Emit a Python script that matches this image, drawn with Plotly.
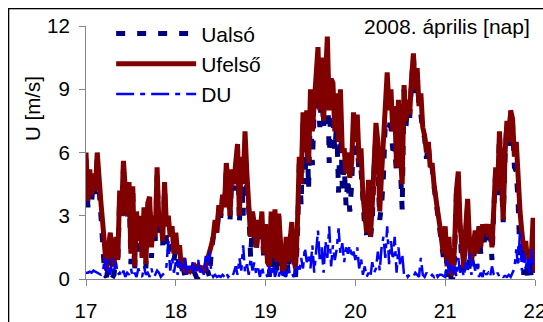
import numpy as np
import plotly.graph_objects as go

# time axis: 30-minute samples, 17.0 .. 22.0 (day of April 2008)
t_start, t_end, n_per_day = 17, 22, 48
nap = np.linspace(t_start, t_end, (t_end - t_start) * n_per_day + 1)

u_felso = [
    # 17
    6.0, 3.7, 5.2, 4.0, 5.0, 4.2, 6.0, 4.5, 3.6, 2.6, 1.2, 0.4,
    1.5, 2.2, 1.0, 0.6, 2.0, 0.9, 4.2, 3.0, 5.6, 4.2, 3.0, 4.6,
    1.2, 4.4, 0.6, 3.2, 1.8, 3.0, 1.0, 3.4, 0.7, 3.6, 3.9, 1.5,
    3.0, 2.0, 5.3, 2.5, 3.0, 1.8, 4.6, 2.5, 3.0, 2.0, 2.5, 1.2,
    # 18
    2.2, 1.2, 1.6, 0.5, 1.0, 0.4, 0.3, 0.6, 0.4, 0.5, 0.6, 0.4,
    0.6, 0.5, 0.6, 0.3, 0.6, 0.8, 1.2, 1.6, 2.0, 2.8, 2.2, 3.5,
    3.0, 4.0, 3.4, 5.5, 4.5, 3.0, 5.2, 4.5, 5.5, 6.4, 3.0, 5.8,
    4.5, 7.0, 5.0, 3.5, 2.0, 3.2, 2.6, 1.5, 2.8, 2.0, 3.2, 1.2,
    # 19
    2.6, 0.8, 0.6, 3.2, 1.0, 3.3, 0.8, 3.1, 1.2, 0.3, 0.6, 2.0,
    0.8, 2.1, 2.7, 1.0, 0.5, 2.5, 5.8, 4.5, 7.9, 6.0, 8.0, 5.5,
    9.0, 7.0, 8.5, 10.0, 11.0, 8.0, 10.5, 7.5, 10.1, 11.5, 8.0, 9.5,
    9.3, 7.0, 8.8, 6.5, 9.0, 6.0, 6.2, 5.0, 6.0, 4.8, 5.5, 7.9,
    # 20
    6.5, 7.8, 5.5, 6.2, 4.0, 3.0, 2.2, 4.7, 2.0, 3.5, 5.5, 7.4,
    6.5, 3.2, 5.0, 6.9, 8.5, 9.8, 8.0, 9.0, 7.0, 8.2, 5.3, 8.5,
    6.0, 4.5, 9.2, 7.5, 8.5, 7.8, 9.5, 10.7, 9.0, 10.0, 8.2, 8.8,
    7.2, 6.8, 6.0, 6.5, 5.3, 5.5, 4.5, 4.0, 3.2, 2.6, 1.8, 1.2,
    # 21
    2.5, 0.6, 2.0, 0.3, 0.2, 1.5, 4.2, 5.1, 2.5, 1.0, 0.5, 2.5,
    3.8, 1.8, 0.8, 1.5, 2.3, 1.2, 2.5, 1.5, 2.6, 2.2, 2.6, 2.0,
    2.6, 1.5, 3.5, 5.3, 4.2, 7.0, 5.0, 2.8, 6.0, 7.5, 6.5, 8.0,
    7.6, 5.8, 6.5, 4.2, 3.2, 2.2, 1.4, 1.8, 0.9, 1.4, 1.0, 2.9,
    0.3,
]

u_also = [
    # 17
    5.7, 3.4, 4.85, 3.7, 4.6, 3.85, 5.7, 4.25, 3.4, 2.3, 0.2, 0.1,
    0.6, 2.0, 0.05, 0.2, 1.2, 0.7, 3.9, 2.9, 5.2, 4.1, 2.7, 4.4,
    0.7, 4.3, 0.3, 3.1, 1.3, 2.8, 0.9, 2.8, 0.5, 3.3, 3.8, 1.0,
    2.9, 1.8, 4.9, 2.2, 2.9, 1.6, 4.3, 1.9, 1.2, 1.6, 1.5, 0.9,
    # 18
    1.4, 1.0, 0.7, 0.2, 0.5, 0.1, 0.1, 0.1, 0.1, 0.1, 0.3, 0.1,
    0.1, 0.2, 0.1, 0.1, 0.1, 0.4, 0.1, 1.3, 1.9, 2.6, 2.1, 3.35,
    2.9, 3.8, 3.3, 5.2, 4.4, 2.8, 5.1, 4.2, 4.9, 6.2, 2.6, 5.4,
    3.0, 6.7, 4.3, 3.3, 1.0, 2.8, 1.8, 1.3, 2.3, 1.9, 2.6, 1.0,
    # 19
    2.3, 0.7, 0.1, 3.0, 0.3, 3.2, 0.4, 3.0, 0.7, 0.1, 0.3, 1.9,
    0.2, 1.9, 2.4, 0.9, 0.1, 1.9, 5.5, 3.5, 7.4, 4.5, 7.2, 4.3,
    8.5, 5.4, 8.2, 8.8, 8.7, 7.2, 9.0, 7.2, 8.3, 10.5, 5.5, 8.9,
    7.7, 6.1, 7.4, 4.1, 7.8, 4.3, 5.4, 3.5, 4.8, 3.2, 4.5, 6.6,
    # 20
    5.6, 6.3, 5.0, 5.2, 3.8, 2.4, 2.1, 4.4, 1.9, 2.7, 5.2, 6.9,
    5.2, 2.8, 3.5, 4.9, 7.5, 7.3, 7.3, 7.2, 6.1, 6.2, 5.0, 7.0,
    5.4, 3.3, 9.0, 7.2, 8.4, 7.6, 9.35, 10.6, 8.7, 9.8, 8.1, 7.8,
    7.0, 6.7, 5.7, 6.35, 5.2, 5.3, 4.4, 3.7, 3.1, 2.4, 1.6, 1.05,
    # 21
    2.4, 0.1, 1.7, 0.1, 0.05, 0.9, 4.1, 4.1, 2.2, 0.5, 0.4, 1.7,
    3.5, 0.6, 0.6, 0.6, 1.9, 0.5, 2.4, 1.2, 2.5, 1.7, 2.4, 1.7,
    2.5, 0.9, 3.3, 5.2, 3.9, 6.9, 4.8, 2.7, 5.85, 7.4, 6.3, 7.9,
    7.3, 5.3, 5.1, 3.6, 0.9, 1.8, 0.2, 1.3, 0.1, 1.1, 0.1, 2.3,
    0.1,
]

du = [
    # 17
    0.3, 0.3, 0.35, 0.3, 0.4, 0.35, 0.3, 0.25, 0.2, 0.3, 1.0, 0.3,
    0.9, 0.2, 1.0, 0.4, 0.8, 0.2, 0.3, 0.1, 0.4, 0.1, 0.3, 0.2,
    0.5, 0.1, 0.3, 0.1, 0.5, 0.2, 0.1, 0.6, 0.2, 0.3, 0.1, 0.5,
    0.1, 0.2, 0.4, 0.3, 0.1, 0.2, 0.3, 0.6, 1.8, 0.4, 1.0, 0.3,
    # 18
    0.8, 0.2, 0.9, 0.3, 0.5, 1.0, 0.2, 0.6, 0.3, 0.8, 0.2, 0.5,
    0.9, 0.3, 0.6, 0.2, 1.1, 0.4, 1.3, 0.3, 0.1, 0.2, 0.1, 0.15,
    0.1, 0.2, 0.1, 0.3, 0.1, 0.2, 0.1, 0.3, 0.6, 0.2, 1.0, 0.4,
    1.6, 0.3, 0.7, 0.2, 1.0, 0.4, 0.8, 0.2, 0.5, 0.1, 0.6, 0.2,
    # 19
    0.3, 0.1, 0.6, 0.2, 0.7, 0.1, 0.4, 0.1, 0.5, 0.2, 0.3, 0.1,
    0.6, 0.2, 0.3, 0.1, 0.4, 0.6, 0.3, 1.0, 0.5, 1.5, 0.8, 1.2,
    0.5, 1.6, 0.3, 1.2, 2.3, 0.8, 1.5, 0.3, 1.8, 1.0, 2.5, 0.6,
    1.6, 0.9, 1.4, 2.4, 1.2, 1.7, 0.8, 1.5, 1.2, 1.6, 1.0, 1.3,
    # 20
    0.9, 1.5, 0.5, 1.0, 0.2, 0.6, 0.1, 0.3, 0.1, 0.8, 0.3, 0.5,
    1.3, 0.4, 1.5, 2.0, 1.0, 2.5, 0.7, 1.8, 0.9, 2.0, 0.3, 1.5,
    0.6, 1.2, 0.2, 0.3, 0.1, 0.2, 0.15, 0.1, 0.3, 0.2, 0.1, 1.0,
    0.2, 0.1, 0.3, 0.15, 0.1, 0.2, 0.1, 0.3, 0.1, 0.2, 0.2, 0.15,
    # 21
    0.1, 1.0, 0.3, 0.8, 0.2, 0.6, 0.1, 1.0, 0.3, 0.5, 0.1, 0.8,
    0.3, 1.2, 0.2, 0.9, 0.4, 0.7, 0.1, 0.3, 0.1, 0.5, 0.2, 0.3,
    0.1, 0.6, 0.2, 0.1, 0.3, 0.1, 0.2, 0.1, 0.15, 0.1, 0.2, 0.1,
    0.3, 0.5, 1.4, 0.6, 2.3, 0.4, 1.2, 0.5, 1.0, 0.3, 1.4, 0.6,
    0.3,
]

x_ticks = [17, 18, 19, 20, 21, 22]
y_ticks = [0, 3, 6, 9, 12]

FONT = "Liberation Sans, Arial, sans-serif"
FS = 20.5

fig = go.Figure()
fig.add_trace(go.Scatter(
    x=nap, y=u_also, name="Ualsó", mode="lines",
    line=dict(color="#000080", width=5, dash="9px,12px"),
))
fig.add_trace(go.Scatter(
    x=nap, y=u_felso, name="Ufelső", mode="lines",
    line=dict(color="#800000", width=5),
))
fig.add_trace(go.Scatter(
    x=nap, y=du, name="DU", mode="lines",
    line=dict(color="#0000FF", width=2.5, dash="18px,6px,5px,6px"),
))

axis_common = dict(
    showgrid=False, zeroline=False, showline=True, linecolor="#868686",
    linewidth=1, ticks="outside", ticklen=6, tickcolor="#868686",
    tickfont=dict(family=FONT, size=FS, color="black"),
    ticklabeloverflow="allow", automargin=False,
)

# outer chart frame (top and left edges visible in the reference)
frame_left, frame_top = -0.1737, 1.0711

fig.update_layout(
    width=543, height=322,
    margin=dict(l=86, r=8, t=26, b=43, autoexpand=False),
    paper_bgcolor="white", plot_bgcolor="white",
    font=dict(family=FONT, size=FS, color="black"),
    xaxis=dict(range=[17, 22], tickvals=x_ticks, ticklabelstandoff=7,
               **axis_common),
    yaxis=dict(range=[0, 12], tickvals=y_ticks, ticklabelstandoff=5,
               **axis_common),
    showlegend=True,
    legend=dict(
        x=0.056, y=1.05, xanchor="left", yanchor="top",
        bgcolor="rgba(0,0,0,0)", itemwidth=80,
        font=dict(family=FONT, size=21, color="black"),
        tracegroupgap=0,
    ),
    annotations=[
        dict(text=" ", xref="paper", yref="paper",
             x=frame_left, y=frame_top, xanchor="left", yanchor="top",
             width=600, height=360, borderpad=0, borderwidth=1.3,
             bordercolor="black", bgcolor="rgba(0,0,0,0)",
             showarrow=False),
        dict(text="2008. április [nap]", xref="paper", yref="paper",
             x=0.993, y=1.0, xanchor="right", yanchor="middle",
             showarrow=False, font=dict(family=FONT, size=21, color="black")),
        dict(text="U [m/s]", xref="paper", yref="paper",
             x=-0.118, y=0.672, xanchor="center", yanchor="middle",
             textangle=-90, showarrow=False,
             font=dict(family=FONT, size=FS, color="black")),
    ],
)

fig.write_html(
    "out.html",
    config={"displayModeBar": False},
    post_script="document.body.style.margin='0';"
                "document.body.style.overflow='hidden';",
)
